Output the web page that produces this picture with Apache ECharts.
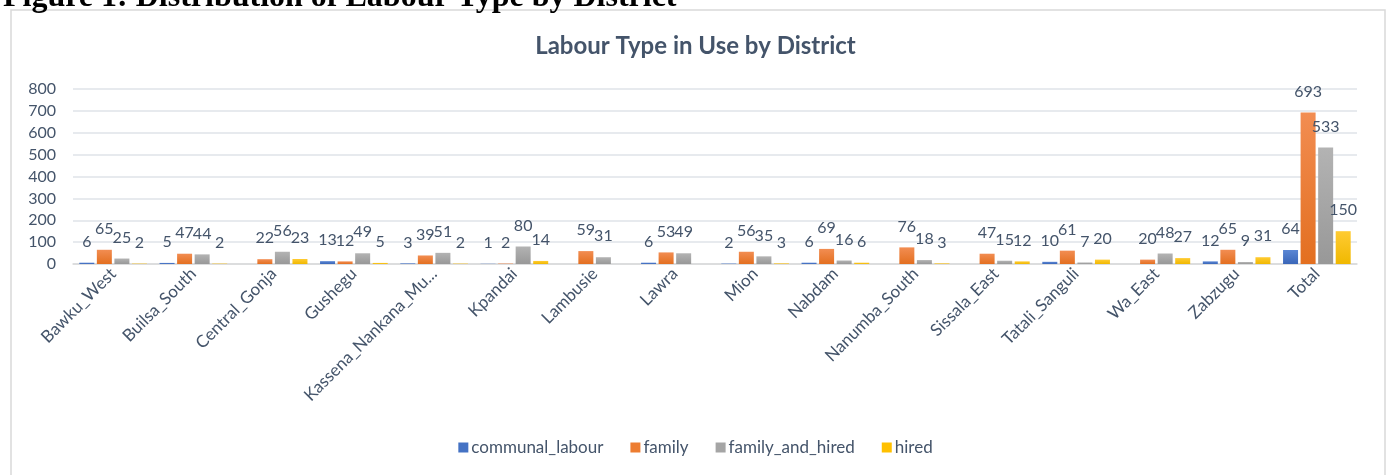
<!DOCTYPE html>
<html>
<head>
<meta charset="utf-8">
<script src="https://cdn.jsdelivr.net/npm/echarts@6/dist/echarts.min.js"></script>
<style>
html,body{margin:0;padding:0;background:#fff;}
#c{width:1391px;height:475px;}
</style>
</head>
<body>
<div id="c"></div>
<script>
const categories = ["Bawku_West","Builsa_South","Central_Gonja","Gushegu","Kassena_Nankana_Mu...","Kpandai","Lambusie","Lawra","Mion","Nabdam","Nanumba_South","Sissala_East","Tatali_Sanguli","Wa_East","Zabzugu","Total"];
const communalLabour = [6,5,null,13,3,1,null,6,2,6,null,null,10,null,12,64];
const family = [65,47,22,12,39,2,59,53,56,69,76,47,61,20,65,693];
const familyAndHired = [25,44,56,49,51,80,31,49,35,16,18,15,7,48,9,533];
const hired = [2,2,23,5,2,14,null,null,3,6,3,12,20,27,31,150];
const yTicks = [0,100,200,300,400,500,600,700,800];

const TXT = '#44546A';
const FONT = 'Lato';
function grad(top, bottom){
  return new echarts.graphic.LinearGradient(0,0,0,1,[{offset:0,color:top},{offset:1,color:bottom}]);
}
const seriesDefs = [
  {name:'communal_labour', data: communalLabour, c: grad('#5a86d4','#3a66b8'), lc:'#4472C4'},
  {name:'family', data: family, c: grad('#f28d52','#e36f20'), lc:'#ED7D31'},
  {name:'family_and_hired', data: familyAndHired, c: grad('#b3b3b3','#989898'), lc:'#A5A5A5'},
  {name:'hired', data: hired, c: grad('#ffcb33','#f0b800'), lc:'#FFC000'}
];

const chart = echarts.init(document.getElementById('c'), null, {renderer:'canvas'});
chart.setOption({
  animation:false,
  backgroundColor:'#ffffff',
  textStyle:{fontFamily:FONT},
  title:{
    text:'Labour Type in Use by District',
    left:'center', top:29,
    textStyle:{fontFamily:FONT, fontWeight:'bold', fontSize:24, color:TXT}
  },
  graphic:[
    {type:'rect', shape:{x:11,y:10,width:1374,height:470}, style:{fill:'none', stroke:'#d9d9d9', lineWidth:1.5}, silent:true},
    {type:'text', x:3, y:-2, style:{text:'Figure 1: Distribution of Labour Type by District', font:'bold 32px "Liberation Serif"', fill:'#000', verticalAlign:'middle', align:'left'}}
  ],
  legend:{
    bottom:14, left:'center',
    itemWidth:10, itemHeight:10, itemGap:27,
    icon:'rect',
    textStyle:{fontFamily:FONT, fontSize:17, color:TXT, padding:[0,0,0,-2]},
    data: seriesDefs.map(s=>({name:s.name, itemStyle:{color:s.lc}}))
  },
  grid:{left:73, right:34, top:89, bottom:211},
  xAxis:{
    type:'category', data:categories,
    axisTick:{show:false},
    axisLine:{lineStyle:{color:'#d9d9d9', width:1.5}},
    axisLabel:{rotate:45, interval:0, margin:7, fontFamily:FONT, fontSize:17, color:TXT}
  },
  yAxis:{
    type:'value', min:yTicks[0], max:yTicks[yTicks.length-1], interval:100,
    axisLine:{show:false}, axisTick:{show:false},
    splitLine:{lineStyle:{color:'#dfe3e8', width:1.5}},
    axisLabel:{margin:17, fontFamily:FONT, fontSize:16, color:TXT}
  },
  series: seriesDefs.map(s=>({
    type:'bar', name:s.name, data:s.data,
    barWidth:15, barGap:'17%',
    itemStyle:{color:s.c},
    label:{show:true, position:'top', distance:13, fontFamily:FONT, fontSize:16, color:TXT}
  }))
});
</script>
</body>
</html>
